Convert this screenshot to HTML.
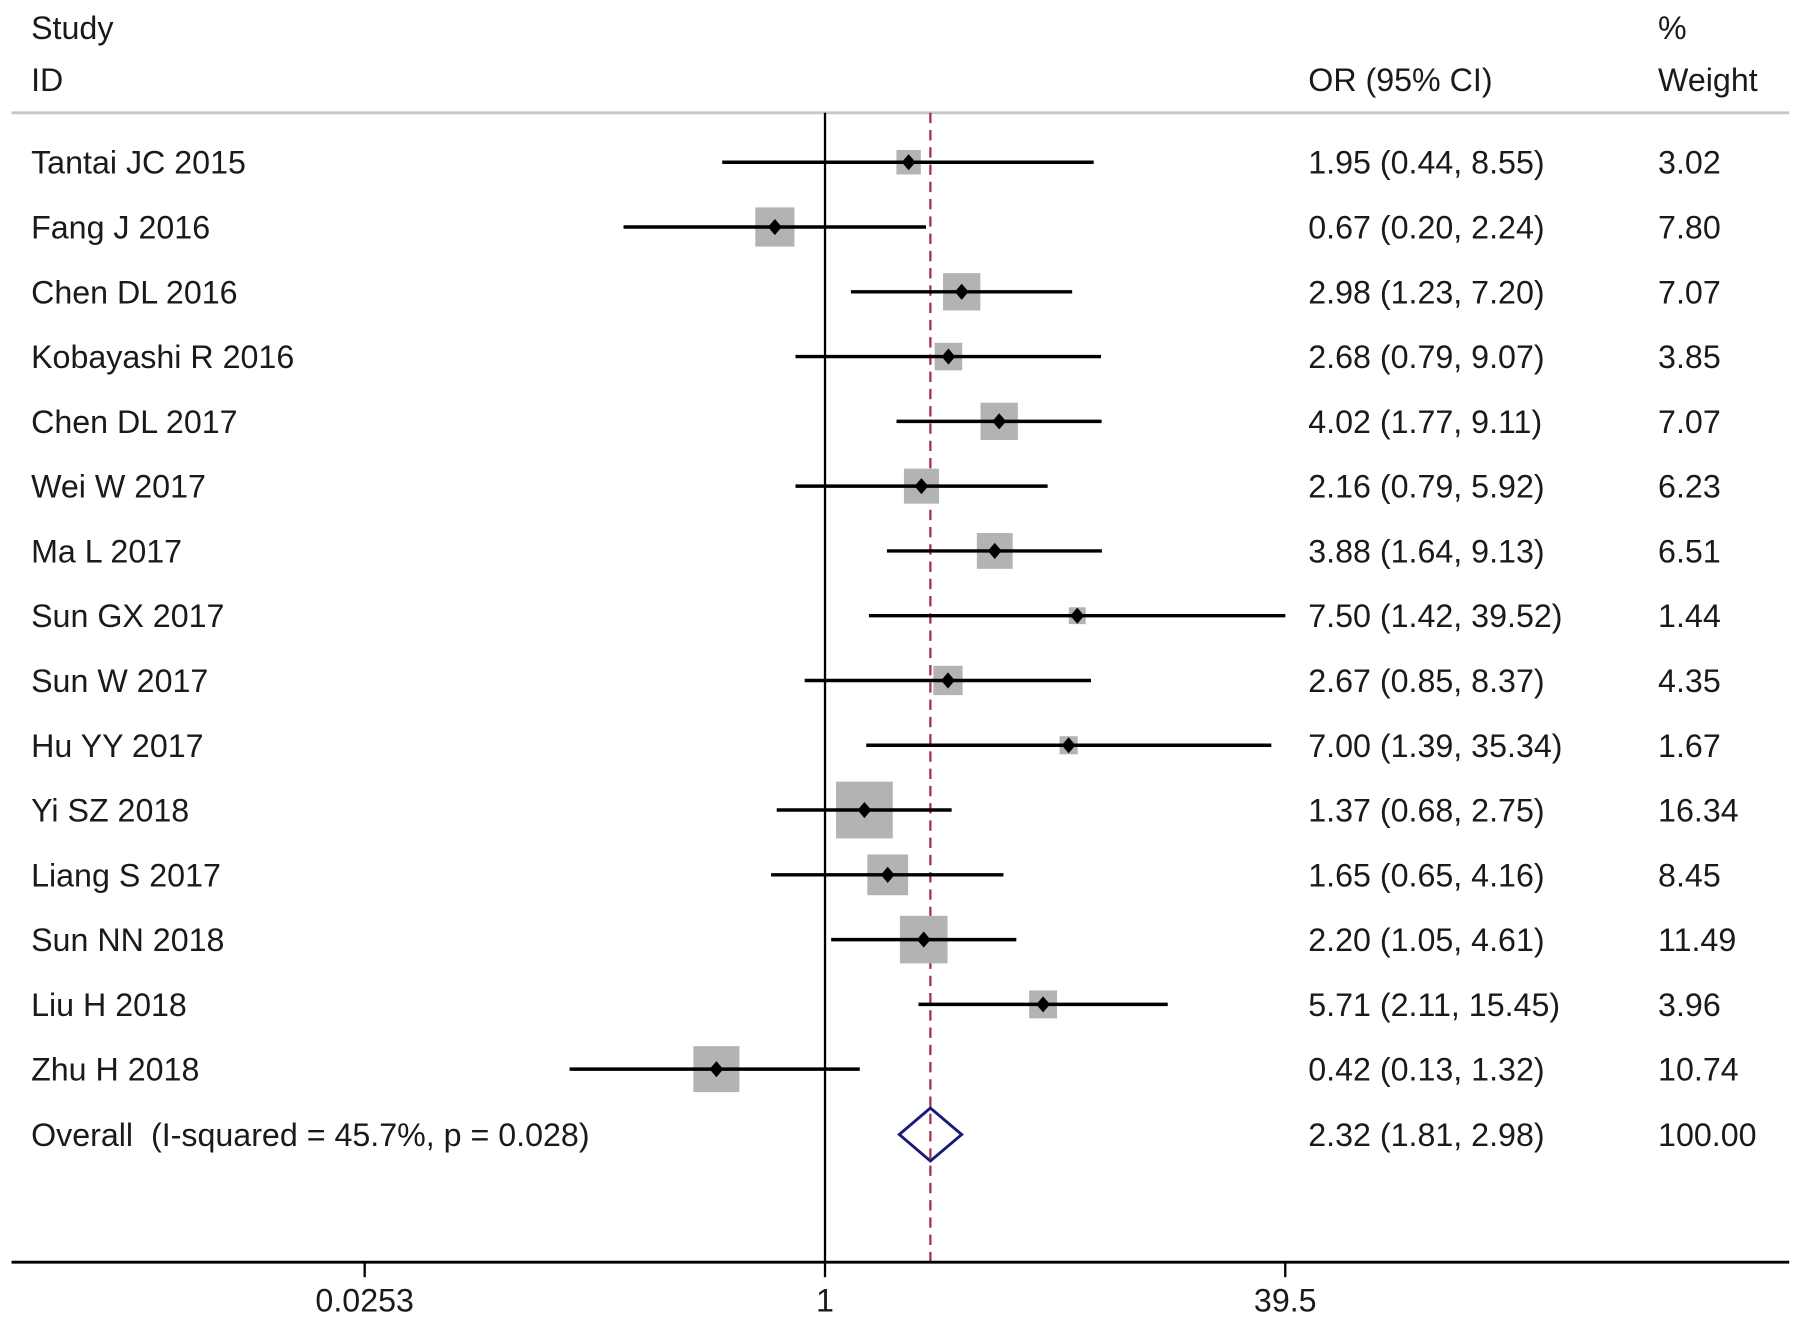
<!DOCTYPE html>
<html><head><meta charset="utf-8"><style>
html,body{margin:0;padding:0;background:#fff;}
svg{display:block;}
text{font-family:"Liberation Sans",Arial,sans-serif;font-size:28px;fill:#1a1a1a;}
</style></head><body>
<svg id="chart" width="1795" height="1317" viewBox="0 0 1560 1144.6" xmlns="http://www.w3.org/2000/svg">
<rect width="1560" height="1144.6" fill="#fff"/>
<text x="27" y="34">Study</text>
<text x="27" y="79">ID</text>
<text x="1137" y="79">OR (95% CI)</text>
<text x="1441" y="34">%</text>
<text x="1441" y="79">Weight</text>
<line x1="10" y1="98" x2="1555" y2="98" stroke="#c8c8c8" stroke-width="2.5"/>
<g id="marks"></g>
</svg>
<script>
const studies = ["Tantai JC 2015","Fang J 2016","Chen DL 2016","Kobayashi R 2016","Chen DL 2017","Wei W 2017","Ma L 2017","Sun GX 2017","Sun W 2017","Hu YY 2017","Yi SZ 2018","Liang S 2017","Sun NN 2018","Liu H 2018","Zhu H 2018"];
const orValues = [1.95,0.67,2.98,2.68,4.02,2.16,3.88,7.50,2.67,7.00,1.37,1.65,2.20,5.71,0.42];
const lowerCI = [0.44,0.20,1.23,0.79,1.77,0.79,1.64,1.42,0.85,1.39,0.68,0.65,1.05,2.11,0.13];
const upperCI = [8.55,2.24,7.20,9.07,9.11,5.92,9.13,39.52,8.37,35.34,2.75,4.16,4.61,15.45,1.32];
const weights = [3.02,7.80,7.07,3.85,7.07,6.23,6.51,1.44,4.35,1.67,16.34,8.45,11.49,3.96,10.74];
const overall = [2.32,1.81,2.98];
const overallLabel = "Overall\u00a0 (I-squared = 45.7%, p = 0.028)";
const tickValues = [0.0253,1,39.5];
const tickLabels = ["0.0253","1","39.5"];

const NS="http://www.w3.org/2000/svg";
const g=document.getElementById('marks');
const xScale=v=>717+Math.log(v)*(400/Math.log(39.5));
const yRow=i=>141+i*56.3;
function mk(tag,attrs){const e=document.createElementNS(NS,tag);for(const k in attrs)e.setAttribute(k,attrs[k]);g.appendChild(e);return e;}
const fmt=v=>v.toFixed(2);

let e=mk('line',{x1:xScale(1),y1:98,x2:xScale(1),y2:1097,stroke:'#000','stroke-width':2});


e=mk('line',{x1:xScale(overall[0]),y1:98,x2:xScale(overall[0]),y2:1097,stroke:'#a3324a','stroke-width':2,'stroke-dasharray':'9,6'});



studies.forEach((s,i)=>{
  const y=yRow(i);
  const side=12.2*Math.sqrt(weights[i]);
  const cx=xScale(orValues[i]);
  let b=mk('rect',{x:cx-side/2,y:y-side/2,width:side,height:side,fill:'#b3b3b3'});
  
  
  let l=mk('line',{x1:xScale(lowerCI[i]),y1:y,x2:xScale(upperCI[i]),y2:y,stroke:'#000','stroke-width':3});
  
  
  let p=mk('polygon',{points:`${cx-6},${y} ${cx},${y-7} ${cx+6},${y} ${cx},${y+7}`,fill:'#000'});
  
  
  let t=mk('text',{x:27,y:y+10});t.textContent=s;
  
  
  let t2=mk('text',{x:1137,y:y+10});t2.textContent=`${fmt(orValues[i])} (${fmt(lowerCI[i])}, ${fmt(upperCI[i])})`;
  
  
  let t3=mk('text',{x:1441,y:y+10});t3.textContent=fmt(weights[i]);
  
  
});
const yo=yRow(studies.length)+0.5;
let d=mk('polygon',{points:`${xScale(overall[1])},${yo} ${xScale(overall[0])},${yo-23} ${xScale(overall[2])},${yo} ${xScale(overall[0])},${yo+23}`,fill:'none',stroke:'#1a1a7a','stroke-width':2.5});


let to=mk('text',{x:27,y:yo+10});to.textContent=overallLabel;


let to2=mk('text',{x:1137,y:yo+10});to2.textContent=`${fmt(overall[0])} (${fmt(overall[1])}, ${fmt(overall[2])})`;


let to3=mk('text',{x:1441,y:yo+10});to3.textContent="100.00";


let ax=mk('line',{x1:10,y1:1097,x2:1555,y2:1097,stroke:'#000','stroke-width':2.5});


tickValues.forEach((v,i)=>{
  const x=xScale(v);
  let tk=mk('line',{x1:x,y1:1097,x2:x,y2:1110,stroke:'#000','stroke-width':2});
  
  
  let tl=mk('text',{x:x,y:1140,'text-anchor':'middle'});tl.textContent=tickLabels[i];
  
  
});
</script>
</body></html>
